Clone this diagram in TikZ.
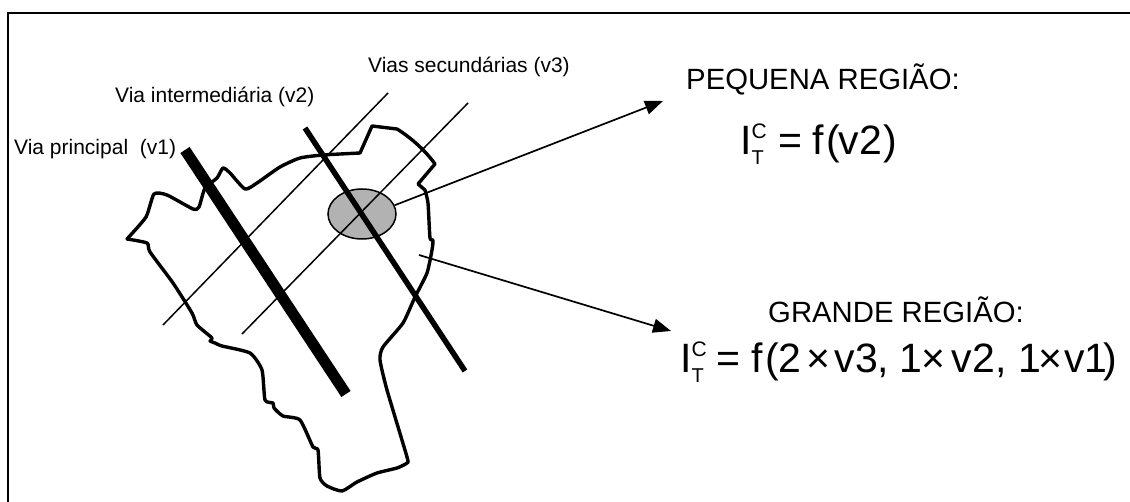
\documentclass[tikz,border=0pt]{standalone}
\usepackage{fontspec}
\setmainfont{Liberation Sans}
\usetikzlibrary{arrows.meta,shapes.geometric}
\newcommand{\ICT}{I\rlap{\raisebox{16pt}{\fontsize{21}{21}\selectfont C}}\raisebox{-10pt}{\fontsize{20}{20}\selectfont T}\kern 1pt}
\newcommand{\kk}[1]{\kern #1pt\relax}
\tikzset{
  x=1pt,y=-1pt,
  boundary/.style={draw,line width=3.4pt,line join=round,line cap=round},
  frameline/.style={draw,line width=2pt},
  principal/.style={draw,line width=11pt},
  intermediate/.style={draw,line width=5.5pt},
  secondary/.style={draw,line width=1.5pt},
  pointer/.style={draw,line width=1.7pt,-{Triangle[length=18pt,width=14pt]}},
  smalllabel/.style={inner sep=0pt,anchor=base west,font=\fontsize{21}{24}\selectfont},
  biglabel/.style={inner sep=0pt,anchor=base west,font=\fontsize{29.3}{34}\selectfont},
  formula/.style={inner sep=0pt,anchor=base west,font=\fontsize{41}{45}\selectfont},
  region/.style={ellipse,draw,line width=1.5pt,fill=black!30,minimum width=68pt,minimum height=50pt,inner sep=0pt}
}
\begin{document}
\begin{tikzpicture}
\useasboundingbox (0,0) rectangle (1130,502);
\draw[frameline] (8,504) -- (8,13) -- (1132,13);
% region outline
\draw[boundary] plot[smooth,tension=0.35] coordinates {
(127,239) (146,217) (154,194) (167,195) (193,209) (199,207) (205,188) (217,178) (223,168) (230,173)
(245,189) (257,183) (280,167) (300,158) (323,155) (360,153)};
\draw[boundary] (360,153) -- (372,126) -- (397,129) .. controls (410,137) and (425,150) .. (435,164) -- (418,184) -- (425,190);
\draw[boundary] plot[smooth,tension=0.35] coordinates {
(425,190) (428,203) (430,238) (433,240) (432,250) (427,273) (415,297) (403,323) (383,347) (380,360) (387,390)
(407,457) (407,463) (397,468) (377,473) (357,482) (342,491) (327,486) (320,478) (318,450) (313,447)
(300,420) (283,416) (274,408) (273,403) (265,400) (262,370) (250,353) (222,346) (215,343) (210,341)
(212,338) (197,325) (192,313) (173,283) (150,252) (147,243) (127,239)};
% secondary roads
\coordinate (s1a) at (388,93); \coordinate (s1b) at (163,325);
\coordinate (s2a) at (468,103); \coordinate (s2b) at (242,334);
\draw[secondary] (s1a) -- (s1b);
% ellipse
\node[region] (reg) at (362,214) {};
\draw[secondary] (s2a) -- (s2b);
% main roads
\coordinate (p1) at (185,150); \coordinate (p2) at (346,394);
\coordinate (i1) at (305,128); \coordinate (i2) at (465,371);
\draw[principal] (p1) -- (p2);
\draw[intermediate] (i1) -- (i2);
% arrows
\coordinate (t1) at (663,101);
\coordinate (g0) at (419,255); \coordinate (t2) at (671,331);
\draw[pointer] (reg.15) -- (t1);
\draw[pointer] (g0) -- (t2);
% labels
\node[smalllabel] (l1) at (14,155) {Via principal\ \ (v1)};
\node[smalllabel] (l2) at (115,103) {Via intermediária (v2)};
\node[smalllabel] (l3) at (368,73) {Vias secundárias (v3)};
\node[biglabel] (h1) at (686,90) {PEQUENA REGIÃO:};
\node[formula] (f1) at (740,155) {\ICT\kk{14}=\kk{10}f\kk{2}(\kk{-1}v2\kk{1})};
\node[biglabel] (h2) at (768,323) {GRANDE REGIÃO:};
\node[formula] (f2) at (680,373) {\ICT\kk{12}=\kk{11}f\kk{2}(2\kk{5}×\kk{4}v3,\kk{10}1\kk{-1}×\kk{7}v2,\kk{12}1\kk{-3}×\kk{2}v1\kk{-4})};
\end{tikzpicture}
\end{document}
